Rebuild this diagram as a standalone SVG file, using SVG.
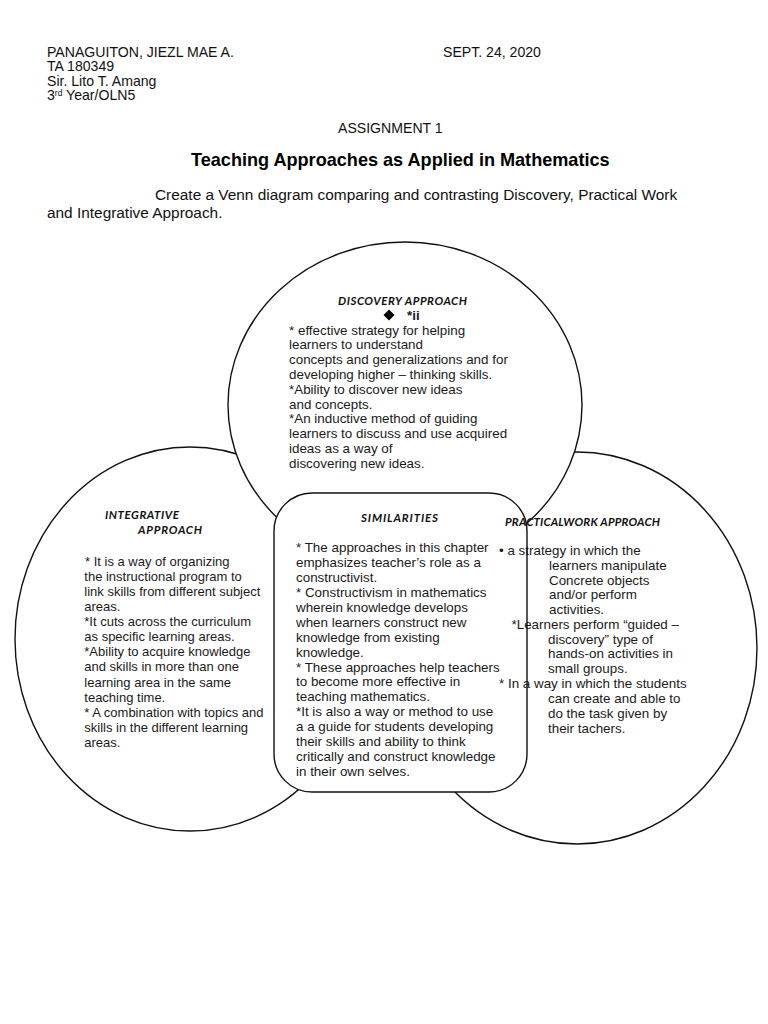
<svg xmlns="http://www.w3.org/2000/svg" width="768" height="1024" viewBox="0 0 768 1024">
<style>
.h{font-family:"Liberation Sans",Arial,sans-serif;font-size:14.1px;fill:#111}
.d{font-family:"Liberation Sans",Arial,sans-serif;font-size:15.4px;fill:#111}
.t{font-family:"Liberation Sans",Arial,sans-serif;font-size:18.1px;font-weight:bold;fill:#000}
.b{font-family:"Liberation Sans",Arial,sans-serif;font-size:13.4px;fill:#1a1a1a}
.bi{font-family:"Liberation Sans",Arial,sans-serif;font-size:13px;fill:#1a1a1a}
.hd{font-family:Lato,"Open Sans",sans-serif;font-size:11.5px;font-weight:bold;font-style:italic;fill:#111}
.shape{fill:none;stroke:#111;stroke-width:1.4}
</style>
<defs>
<ellipse id="eTop" cx="405" cy="405" rx="177" ry="163"/>
<rect id="rSim" x="274" y="493" width="253" height="299" rx="38" ry="38"/>
<mask id="mOuter" maskUnits="userSpaceOnUse" x="0" y="0" width="768" height="1024">
<rect x="0" y="0" width="768" height="1024" fill="#fff"/>
<use href="#eTop" fill="#000"/>
<use href="#rSim" fill="#000"/>
</mask>
<mask id="mTop" maskUnits="userSpaceOnUse" x="0" y="0" width="768" height="1024">
<rect x="0" y="0" width="768" height="1024" fill="#fff"/>
<use href="#rSim" fill="#000"/>
</mask>
</defs>
<rect x="0" y="0" width="768" height="1024" fill="#fff"/>
<g id="header">
<text class="h" x="47" y="56.5">PANAGUITON, JIEZL MAE A.</text>
<text class="h" x="443" y="56.5">SEPT. 24, 2020</text>
<text class="h" x="47" y="71">TA 180349</text>
<text class="h" x="47" y="85.5">Sir. Lito T. Amang</text>
<text class="h" x="47" y="100">3<tspan font-size="8.5" dy="-4.5">rd</tspan><tspan dy="4.5"> Year/OLN5</tspan></text>
<text class="h" x="338" y="133">ASSIGNMENT 1</text>
<text class="t" x="191" y="166">Teaching Approaches as Applied in Mathematics</text>
<text class="d" x="155" y="200">Create a Venn diagram comparing and contrasting Discovery, Practical Work</text>
<text class="d" x="47" y="218">and Integrative Approach.</text>
</g>
<g id="connectors"/>
<g id="node-integrative">
<ellipse class="shape" cx="190" cy="639" rx="175" ry="192" mask="url(#mOuter)"/>
<text class="hd" x="105" y="519" textLength="74">INTEGRATIVE</text>
<text class="hd" x="138" y="534" textLength="64">APPROACH</text>
<text class="bi" x="85" y="565.7">* It is a way of organizing</text>
<text class="bi" x="84.3" y="580.8">the instructional program to</text>
<text class="bi" x="84.3" y="595.9">link skills from different subject</text>
<text class="bi" x="84.3" y="611">areas.</text>
<text class="bi" x="84.3" y="626.1">*It cuts across the curriculum</text>
<text class="bi" x="84.3" y="641.2">as specific learning areas.</text>
<text class="bi" x="84.3" y="656.3">*Ability to acquire knowledge</text>
<text class="bi" x="84.3" y="671.4">and skills in more than one</text>
<text class="bi" x="84.3" y="686.5">learning area in the same</text>
<text class="bi" x="84.3" y="701.6">teaching time.</text>
<text class="bi" x="84.3" y="716.7">* A combination with topics and</text>
<text class="bi" x="84.3" y="731.8">skills in the different learning</text>
<text class="bi" x="84.3" y="746.9">areas.</text>
</g>
<g id="node-practical">
<ellipse class="shape" cx="577" cy="648" rx="180" ry="196" mask="url(#mOuter)"/>
<text class="hd" x="505" y="526" textLength="155">PRACTICALWORK APPROACH</text>
<text class="b" x="499" y="555">• a strategy in which the</text>
<text class="b" x="549" y="570">learners manipulate</text>
<text class="b" x="549" y="584.5">Concrete objects</text>
<text class="b" x="549" y="599.3">and/or perform</text>
<text class="b" x="549" y="614">activities.</text>
<text class="b" x="511.5" y="629.3">*Learners perform “guided –</text>
<text class="b" x="548" y="643.5">discovery” type of</text>
<text class="b" x="548" y="658.3">hands-on activities in</text>
<text class="b" x="548" y="672.7">small groups.</text>
<text class="b" x="499" y="688.3">* In a way in which the students</text>
<text class="b" x="548" y="703.3">can create and able to</text>
<text class="b" x="548" y="718.3">do the task given by</text>
<text class="b" x="548" y="732.7">their tachers.</text>
</g>
<g id="node-discovery">
<use href="#eTop" class="shape" mask="url(#mTop)"/>
<text class="hd" x="338" y="305" textLength="129">DISCOVERY APPROACH</text>
<polygon points="389,309.5 394.5,315 389,320.5 383.5,315" fill="#000"/>
<text class="b" x="407" y="319.5" font-weight="bold">*ii</text>
<text class="b" x="289" y="334.5">* effective strategy for helping</text>
<text class="b" x="289" y="349.3">learners to understand</text>
<text class="b" x="289" y="364.1">concepts and generalizations and for</text>
<text class="b" x="289" y="378.9">developing higher – thinking skills.</text>
<text class="b" x="289" y="393.7">*Ability to discover new ideas</text>
<text class="b" x="289" y="408.5">and concepts.</text>
<text class="b" x="289" y="423.3">*An inductive method of guiding</text>
<text class="b" x="289" y="438.1">learners to discuss and use acquired</text>
<text class="b" x="289" y="452.9">ideas as a way of</text>
<text class="b" x="289" y="467.7">discovering new ideas.</text>
</g>
<g id="node-similarities">
<use href="#rSim" class="shape"/>
<text class="hd" x="361" y="521.5" textLength="77">SIMILARITIES</text>
<text class="b" x="296" y="552.3">* The approaches in this chapter</text>
<text class="b" x="296" y="567.2">emphasizes teacher’s role as a</text>
<text class="b" x="296" y="582.1">constructivist.</text>
<text class="b" x="296" y="597">* Constructivism in mathematics</text>
<text class="b" x="296" y="611.9">wherein knowledge develops</text>
<text class="b" x="296" y="626.8">when learners construct new</text>
<text class="b" x="296" y="641.7">knowledge from existing</text>
<text class="b" x="296" y="656.6">knowledge.</text>
<text class="b" x="296" y="671.5">* These approaches help teachers</text>
<text class="b" x="296" y="686.4">to become more effective in</text>
<text class="b" x="296" y="701.3">teaching mathematics.</text>
<text class="b" x="296" y="716.2">*It is also a way or method to use</text>
<text class="b" x="296" y="731.1">a a guide for students developing</text>
<text class="b" x="296" y="746">their skills and ability to think</text>
<text class="b" x="296" y="760.9">critically and construct knowledge</text>
<text class="b" x="296" y="775.8">in their own selves.</text>
</g>
</svg>
